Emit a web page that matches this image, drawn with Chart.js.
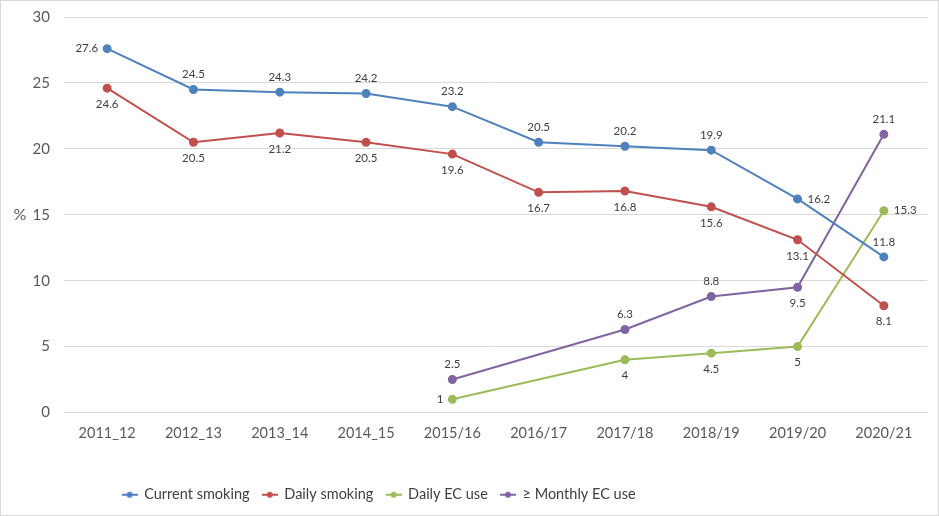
<!DOCTYPE html>
<html><head><meta charset="utf-8">
<script src="https://cdn.jsdelivr.net/npm/chart.js@4"></script>
<style>
html,body{margin:0;padding:0;background:#fff;}
#wrap{position:absolute;left:0;top:0;width:937px;height:514px;border:1px solid #d9d9d9;}
</style></head>
<body><div id="wrap"><canvas id="c" width="937" height="514"></canvas></div>
<script>
const categories = ["2011_12","2012_13","2013_14","2014_15","2015/16","2016/17","2017/18","2018/19","2019/20","2020/21"];
const currentSmoking = [27.6,24.5,24.3,24.2,23.2,20.5,20.2,19.9,16.2,11.8];
const dailySmoking = [24.6,20.5,21.2,20.5,19.6,16.7,16.8,15.6,13.1,8.1];
const dailyECUse = [null,null,null,null,1,null,4,4.5,5,15.3];
const monthlyECUse = [null,null,null,null,2.5,null,6.3,8.8,9.5,21.1];
const seriesNames = ["Current smoking","Daily smoking","Daily EC use","\u2265 Monthly EC use"];
const yTicks = [0,5,10,15,20,25,30];
const yTitle = "%";

const colors = ["#4F81BD","#C0504D","#9BBB59","#8064A2"];
const labelPos = [
  ["left","above","above","above","above","above","above","above","right","above"],
  ["below","below","below","below","below","below","below","below","below","below"],
  [null,null,null,null,"left",null,"below","below","below","right"],
  [null,null,null,null,"above",null,"above","above","below","above"]
];
const FONT = "Lato, 'Liberation Sans', sans-serif";

function legendIcon(color){
  const c=document.createElement('canvas'); c.width=16; c.height=10;
  const g=c.getContext('2d');
  g.strokeStyle=color; g.lineWidth=2; g.beginPath(); g.moveTo(0,5); g.lineTo(16,5); g.stroke();
  g.fillStyle=color; g.beginPath(); g.arc(8,5,3,0,Math.PI*2); g.fill();
  return c;
}

const dataLabelPlugin = {
  id:'dl',
  afterLayout(chart){
    if(chart.legend){ chart.legend.left -= 90; chart.legend.right -= 90; }
  },
  afterDatasetsDraw(chart){
    const ctx=chart.ctx; ctx.save();
    ctx.font = "11.5px " + FONT; ctx.fillStyle="#404040";
    chart.data.datasets.forEach((ds,di)=>{
      const meta=chart.getDatasetMeta(di);
      meta.data.forEach((pt,i)=>{
        const v=ds.data[i]; const pos=labelPos[di][i];
        if(v==null||!pos) return;
        const t=String(v); let x=pt.x,y=pt.y;
        if(pos==="above"){ctx.textAlign="center";ctx.textBaseline="middle";y-=15;}
        else if(pos==="below"){ctx.textAlign="center";ctx.textBaseline="middle";y+=16;}
        else if(pos==="left"){ctx.textAlign="right";ctx.textBaseline="middle";x-=9;}
        else {ctx.textAlign="left";ctx.textBaseline="middle";x+=10;}
        ctx.fillText(t,x,y);
      });
    });
    const a=chart.chartArea;
    ctx.font="16px "+FONT; ctx.fillStyle="#595959"; ctx.textAlign="center"; ctx.textBaseline="middle";
    ctx.fillText(yTitle, 19, (a.top+a.bottom)/2);
    ctx.restore();
  }
};

const allSeries=[currentSmoking,dailySmoking,dailyECUse,monthlyECUse];
new Chart(document.getElementById('c'),{
  type:'line',
  data:{labels:categories,datasets:allSeries.map((d,i)=>({
    label:seriesNames[i],data:d,borderColor:colors[i],backgroundColor:colors[i],
    borderWidth:2,pointRadius:3.5,pointHoverRadius:3.5,spanGaps:true,tension:0
  }))},
  options:{
    responsive:false,animation:false,
    layout:{padding:{left:10,right:11,top:16,bottom:3}},
    plugins:{
      tooltip:{enabled:false},
      legend:{position:'bottom',labels:{
        font:{family:FONT,size:14.5},color:"#404040",boxWidth:16,boxHeight:10,padding:13,
        usePointStyle:true,
        generateLabels(chart){
          return chart.data.datasets.map((ds,i)=>({text:ds.label,fillStyle:colors[i],strokeStyle:colors[i],
            pointStyle:legendIcon(colors[i]),datasetIndex:i,hidden:false,fontColor:"#404040",lineWidth:0}));
        }
      }}
    },
    scales:{
      x:{offset:true,grid:{display:false,drawTicks:false,offset:true},border:{color:"#d9d9d9"},
         ticks:{font:{family:FONT,size:14.5},color:"#595959",padding:12,maxRotation:0},
         afterFit(s){s.height=62;}},
      y:{min:0,max:30,afterBuildTicks(s){s.ticks=yTicks.map(v=>({value:v}));},
         grid:{color:"#d9d9d9",drawTicks:false},border:{display:false},
         ticks:{font:{family:FONT,size:15},color:"#595959",padding:14},
         afterFit(s){s.width=53;s.paddingTop=0;s.paddingBottom=0;}}
    }
  },
  plugins:[dataLabelPlugin]
});
</script></body></html>
